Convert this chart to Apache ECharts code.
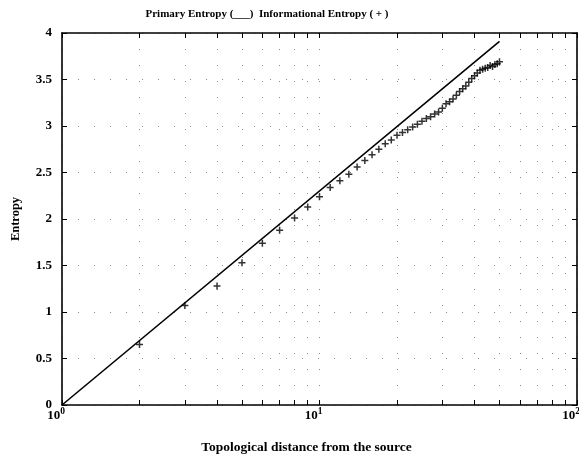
<!DOCTYPE html>
<html>
<head>
<meta charset="utf-8">
<script src="https://cdn.jsdelivr.net/npm/echarts@6/dist/echarts.min.js"></script>
<style>
  html, body { margin: 0; padding: 0; background: #fff; }
  #chart { width: 579px; height: 460px; }
</style>
</head>
<body>
<div id="chart"></div>
<script>
// primary entropy line (straight on log axis, two ends are enough)
var primaryX = [1, 50]
var primaryY = [0, 3.91]

// informational entropy (+), topological distance 2..50
var distance = [2, 3, 4, 5, 6, 7, 8, 9, 10, 11, 12, 13, 14, 15, 16, 17, 18, 19, 20,
  21, 22, 23, 24, 25, 26, 27, 28, 29, 30, 31, 32, 33, 34, 35, 36, 37, 38, 39, 40,
  41, 42, 43, 44, 45, 46, 47, 48, 49, 50]
var informational = [0.65, 1.07, 1.28, 1.53, 1.74, 1.88, 2.01, 2.13, 2.24, 2.34, 2.41, 2.48, 2.56, 2.63, 2.69, 2.75, 2.81, 2.85, 2.90,
  2.93, 2.96, 2.99, 3.02, 3.05, 3.08, 3.10, 3.13, 3.15, 3.19, 3.24, 3.26, 3.29, 3.33, 3.37, 3.40, 3.43, 3.47, 3.51, 3.54,
  3.57, 3.60, 3.61, 3.62, 3.63, 3.65, 3.64, 3.66, 3.67, 3.69]

var xTicks = [1, 2, 3, 4, 5, 6, 7, 8, 9, 10, 20, 30, 40, 50, 60, 70, 80, 90, 100]
var xLabels = [1, 10, 100]
var yTicks = [0, 0.5, 1, 1.5, 2, 2.5, 3, 3.5, 4]

var font = 'Liberation Serif'

var myChart = echarts.init(document.getElementById('chart'))

var gridLine = {
  show: true,
  lineStyle: { color: '#8a8a8a', width: 1, type: [1, 15] }
}

function xAxisOf(pos, showLabel){
  return {
    type: 'log',
    logBase: 10,
    position: pos,
    min: 1,
    max: 100,
    name: showLabel ? 'Topological distance from the source' : '',
    nameLocation: 'middle',
    nameGap: 36,
    nameTextStyle: { fontFamily: font, fontSize: 13.5, fontWeight: 'bold', color: '#000', padding: [0, 26, 0, 0] },
    axisLine: { show: true, onZero: false, lineStyle: { color: '#000', width: 1.6 } },
    axisTick: { show: true, inside: true, length: 5, customValues: xTicks, lineStyle: { color: '#000', width: 1 } },
    minorTick: { show: false },
    splitLine: showLabel ? gridLine : { show: false },
    axisLabel: {
      show: showLabel,
      margin: 2,
      padding: [0, 12, 0, 0],
      customValues: xLabels,
      formatter(v){
        var e = Math.round(Math.log(v) / Math.LN10)
        return '{b|10}{s|' + e + '}'
      },
      rich: {
        b: { fontFamily: font, fontSize: 13, fontWeight: 'bold', color: '#000' },
        s: { fontFamily: font, fontSize: 9.5, fontWeight: 'bold', color: '#000', padding: [0, 0, 7, 0] }
      }
    }
  }
}

function yAxisOf(pos, showLabel){
  return {
    type: 'value',
    position: pos,
    min: 0,
    max: 4,
    interval: 0.5,
    name: showLabel ? 'Entropy' : '',
    nameLocation: 'middle',
    nameGap: 40,
    nameRotate: 90,
    nameTextStyle: { fontFamily: font, fontSize: 12.5, fontWeight: 'bold', color: '#000' },
    axisLine: { show: true, lineStyle: { color: '#000', width: 1.6 } },
    axisTick: { show: true, inside: true, length: 5, customValues: yTicks, lineStyle: { color: '#000', width: 1 } },
    splitLine: showLabel ? gridLine : { show: false },
    axisLabel: {
      show: showLabel,
      margin: 10,
      fontFamily: font,
      fontSize: 13,
      fontWeight: 'bold',
      color: '#000'
    }
  }
}

var lineData = primaryX.map((x, i) => [x, primaryY[i]])
var plusData = distance.map((x, i) => [x, informational[i]])

var option = {
  animation: false,
  backgroundColor: '#fff',
  title: {
    text: 'Primary Entropy (___)  Informational Entropy ( + )',
    left: 262,
    textAlign: 'center',
    top: 4,
    textStyle: { fontFamily: font, fontSize: 11, fontWeight: 'bold', color: '#000' }
  },
  grid: {
    left: 62,
    right: 2,
    top: 33,
    bottom: 55,
    outerBoundsMode: 'none',
    containLabel: false
  },
  xAxis: [xAxisOf('bottom', true), xAxisOf('top', false)],
  yAxis: [yAxisOf('left', true), yAxisOf('right', false)],
  series: [
    {
      name: 'Primary Entropy',
      type: 'line',
      xAxisIndex: 0,
      yAxisIndex: 0,
      showSymbol: false,
      silent: true,
      lineStyle: { color: '#000', width: 1.6 },
      data: lineData
    },
    {
      name: 'Informational Entropy',
      type: 'scatter',
      xAxisIndex: 0,
      yAxisIndex: 0,
      silent: true,
      symbol: 'path://M0,-1L0,1M-1,0L1,0',
      symbolSize: 7,
      itemStyle: { color: 'none', borderColor: '#000', borderWidth: 1.5 },
      data: plusData
    }
  ]
}

myChart.setOption(option)
</script>
</body>
</html>
